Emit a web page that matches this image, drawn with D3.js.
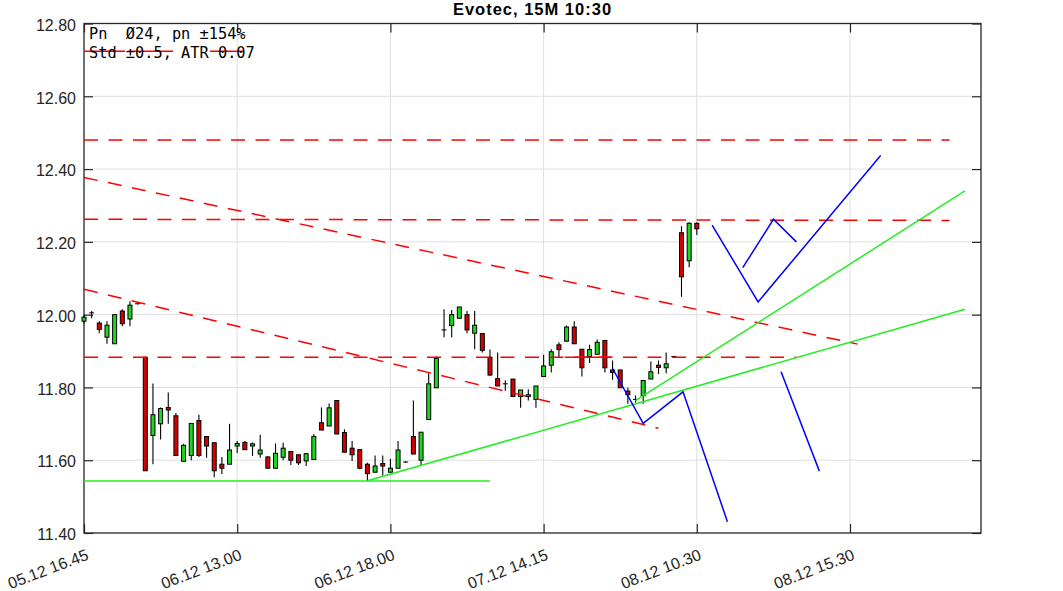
<!DOCTYPE html>
<html><head><meta charset="utf-8">
<script src="https://cdn.jsdelivr.net/npm/d3@7/dist/d3.min.js"></script>
<style>
html,body{margin:0;padding:0;background:#fff;}
svg{display:block;}
</style></head>
<body>
<svg id="chart" width="1063" height="591"></svg>
<script>
// ---- data ----
const title = "Evotec, 15M 10:30";
const infoLines = ["Pn  \u00D824, pn \u00B1154%", "Std \u00B10.5, ATR 0.07"];
const xTickIdx = [0, 20, 40, 60, 80, 100];
const xTickLabels = ["05.12 16.45", "06.12 13.00", "06.12 18.00", "07.12 14.15", "08.12 10.30", "08.12 15.30"];
const yTicks = [11.4, 11.6, 11.8, 12.0, 12.2, 12.4, 12.6, 12.8];

const open  = [11.982,12.005,11.977,11.938,11.920,12.010,11.988,12.030,11.883,11.668,
               11.700,11.745,11.722,11.597,11.613,11.709,11.665,11.648,11.589,11.589,
               11.639,11.649,11.639,11.617,11.609,11.578,11.608,11.624,11.615,11.598,
               11.602,11.703,11.694,11.764,11.676,11.633,11.629,11.589,11.567,11.591,
               11.567,11.578,11.595,11.665,11.600,11.712,11.799,11.958,11.970,11.990,
               12.000,11.949,11.948,11.883,11.824,11.810,11.823,11.775,11.775,11.767,
               11.830,11.861,11.917,11.927,11.966,11.905,11.885,11.891,11.929,11.848,
               11.848,11.790,11.767,11.777,11.823,11.861,11.854,11.885,12.225,12.148,
               12.251];
const high  = [12.000,12.010,11.982,11.982,12.000,12.015,12.037,12.032,11.883,11.811,
               11.745,11.786,11.730,11.645,11.701,11.725,11.665,11.648,11.609,11.700,
               11.653,11.653,11.649,11.670,11.611,11.646,11.648,11.624,11.615,11.620,
               11.672,11.745,11.756,11.764,11.685,11.653,11.629,11.593,11.613,11.613,
               11.604,11.653,11.597,11.764,11.677,11.839,11.885,12.015,12.013,12.021,
               12.010,12.010,11.948,11.904,11.896,11.820,11.823,11.793,11.795,11.804,
               11.890,11.905,11.924,11.970,11.982,11.905,11.917,11.932,11.929,11.874,
               11.848,11.800,11.778,11.819,11.871,11.874,11.896,11.887,12.243,12.254,
               12.254];
const low   = [11.975,11.990,11.949,11.920,11.920,11.968,11.968,12.028,11.571,11.589,
               11.657,11.700,11.613,11.597,11.600,11.609,11.607,11.553,11.562,11.589,
               11.620,11.629,11.612,11.607,11.578,11.578,11.600,11.587,11.587,11.584,
               11.602,11.683,11.694,11.672,11.622,11.598,11.575,11.543,11.567,11.558,
               11.567,11.578,11.593,11.617,11.587,11.712,11.799,11.938,11.938,11.990,
               11.949,11.905,11.896,11.832,11.804,11.791,11.775,11.744,11.764,11.744,
               11.830,11.841,11.882,11.927,11.920,11.830,11.867,11.891,11.841,11.821,
               11.799,11.755,11.758,11.755,11.823,11.837,11.839,11.883,12.049,12.130,
               12.219];
const close = [11.993,12.005,11.959,11.971,12.000,11.975,12.026,12.030,11.571,11.725,
               11.742,11.738,11.613,11.641,11.701,11.613,11.639,11.571,11.578,11.628,
               11.646,11.629,11.645,11.628,11.578,11.619,11.633,11.600,11.593,11.618,
               11.665,11.683,11.744,11.672,11.622,11.615,11.578,11.563,11.584,11.584,
               11.578,11.628,11.595,11.617,11.677,11.810,11.880,11.958,12.000,12.021,
               11.958,11.971,11.902,11.834,11.804,11.810,11.775,11.793,11.780,11.804,
               11.859,11.898,11.904,11.966,11.920,11.854,11.904,11.924,11.854,11.841,
               11.799,11.780,11.767,11.819,11.843,11.855,11.865,11.885,12.104,12.251,
               12.236];

// lines: [startIndex, startPrice, endIndex, endPrice]
const redDashed = [
  [0, 12.480, 113, 12.480],
  [0, 12.262, 113, 12.259],
  [0, 11.883, 93, 11.883],
  [0, 12.377, 101, 11.919],
  [0, 12.070, 75, 11.688]
];
const redSolid = [
  [62.8, 11.883, 68.9, 11.883]
];
const topLevel = [0, 12.724, 20.8, 12.724];
const greenLines = [
  [0, 11.543, 53, 11.543],
  [37.1, 11.544, 115, 12.015],
  [72.0, 11.764, 115, 12.340]
];
// blue zigzag projections: [index, price] points
const blueA = [[82, 12.246], [88, 12.035], [104, 12.437]];
const blueB = [[86, 12.129], [90, 12.262], [93, 12.200]];
const blueC = [[91, 11.843], [96, 11.570]];
const blueD = [[69, 11.852], [73, 11.701], [78.2, 11.788], [84, 11.431]];

// ---- layout ----
const svg = d3.select("#chart");
const L = 84, R = 981, T = 23.5, B = 533;
const x = d3.scaleLinear().domain([0, 117.1]).range([L, R]);
const y = d3.scaleLinear().domain([11.4, 12.8]).range([B, T]);
const font = "'Liberation Sans', Arial, Helvetica, sans-serif";

// grid
const grid = svg.append("g").attr("stroke", "#dfdfdf").attr("stroke-width", 1);
grid.selectAll(".gy").data(yTicks.slice(1, -1)).enter().append("line")
  .attr("x1", L).attr("x2", R).attr("y1", d => y(d)).attr("y2", d => y(d));
grid.selectAll(".gx").data(xTickIdx.slice(1)).enter().append("line")
  .attr("y1", T).attr("y2", B).attr("x1", d => x(d)).attr("x2", d => x(d));

// axes
const axCol = "#262626";
function styleAxis(g) {
  g.select(".domain").remove();
  g.selectAll(".tick line").attr("stroke", axCol).attr("stroke-width", 1.2);
  g.selectAll(".tick text").attr("fill", axCol).style("font-family", font).style("font-size", "16px");
}
svg.append("g").attr("transform", `translate(${L},0)`)
  .call(d3.axisLeft(y).tickValues(yTicks).tickFormat(d3.format(".2f")).tickSizeInner(-9).tickSizeOuter(0).tickPadding(8))
  .call(styleAxis)
  .call(g => g.selectAll(".tick text").attr("dy", "0.42em"));
svg.append("g").attr("transform", `translate(${R},0)`)
  .call(d3.axisRight(y).tickValues(yTicks).tickFormat("").tickSizeInner(-9).tickSizeOuter(0))
  .call(styleAxis);
svg.append("g").attr("transform", `translate(0,${B})`)
  .call(d3.axisBottom(x).tickValues(xTickIdx).tickFormat((d, i) => xTickLabels[i]).tickSizeInner(-9).tickSizeOuter(0))
  .call(styleAxis)
  .call(g => g.selectAll(".tick text")
    .attr("x", 0).attr("y", 0).attr("dy", 0)
    .attr("text-anchor", "end")
    .attr("transform", "translate(5,26) rotate(-21)"));
svg.append("g").attr("transform", `translate(0,${T})`)
  .call(d3.axisTop(x).tickValues(xTickIdx).tickFormat("").tickSizeInner(-9).tickSizeOuter(0))
  .call(styleAxis);

// frame
svg.append("rect").attr("x", L).attr("y", T).attr("width", R - L).attr("height", B - T)
  .attr("fill", "none").attr("stroke", axCol).attr("stroke-width", 1.3);

// candles
const candles = open.map((o, i) => ({i, o, h: high[i], l: low[i], c: close[i]}));
const cg = svg.append("g");
const bw = 4;
cg.selectAll(".wick").data(candles).enter().append("line")
  .attr("x1", d => x(d.i)).attr("x2", d => x(d.i))
  .attr("y1", d => y(d.h)).attr("y2", d => y(d.l))
  .attr("stroke", "#000").attr("stroke-width", 1.1);
cg.selectAll(".body").data(candles).enter().append("rect")
  .attr("x", d => x(d.i) - bw / 2)
  .attr("width", bw)
  .attr("y", d => y(Math.max(d.o, d.c)))
  .attr("height", d => Math.max(0.01, Math.abs(y(d.o) - y(d.c))))
  .attr("fill", d => d.c > d.o ? "#1fd61f" : (d.c < d.o ? "#d40000" : "#000"))
  .attr("stroke", "#000").attr("stroke-width", 1);

// trend lines
const lg = svg.append("g").attr("fill", "none");
lg.selectAll(".rd").data(redDashed).enter().append("line")
  .attr("x1", d => x(d[0])).attr("y1", d => y(d[1])).attr("x2", d => x(d[2])).attr("y2", d => y(d[3]))
  .attr("stroke", "#ff0000").attr("stroke-width", 1.5).attr("stroke-dasharray", "14,10.5");
lg.selectAll(".rs").data(redSolid).enter().append("line")
  .attr("x1", d => x(d[0])).attr("y1", d => y(d[1])).attr("x2", d => x(d[2])).attr("y2", d => y(d[3]))
  .attr("stroke", "#ff0000").attr("stroke-width", 1.5);
lg.append("line")
  .attr("x1", x(topLevel[0])).attr("y1", y(topLevel[1])).attr("x2", x(topLevel[2])).attr("y2", y(topLevel[3]))
  .attr("stroke", "#ff0000").attr("stroke-width", 1.5).attr("stroke-dasharray", "41,3,45,37,40");
lg.selectAll(".gl").data(greenLines).enter().append("line")
  .attr("x1", d => x(d[0])).attr("y1", d => y(d[1])).attr("x2", d => x(d[2])).attr("y2", d => y(d[3]))
  .attr("stroke", "#22ee22").attr("stroke-width", 1.5);
const line = d3.line().x(d => x(d[0])).y(d => y(d[1]));
[blueA, blueB, blueC, blueD].forEach(pts => {
  lg.append("path").attr("d", line(pts)).attr("stroke", "#0000ff").attr("stroke-width", 1.5);
});

// info text
svg.append("g").selectAll("text").data(infoLines).enter().append("text")
  .attr("x", 89).attr("y", (d, i) => 39 + i * 19)
  .attr("xml:space", "preserve")
  .style("white-space", "pre")
  .style("font-family", "'DejaVu Sans Mono', monospace").style("font-size", "15.3px")
  .attr("fill", "#000").text(d => d);

// title
svg.append("text").attr("x", (L + R) / 2).attr("y", 15).attr("text-anchor", "middle")
  .style("font-family", font).style("font-size", "16.5px").style("font-weight", "bold")
  .style("letter-spacing", "1px").attr("fill", "#000").text(title);
</script>
</body></html>
